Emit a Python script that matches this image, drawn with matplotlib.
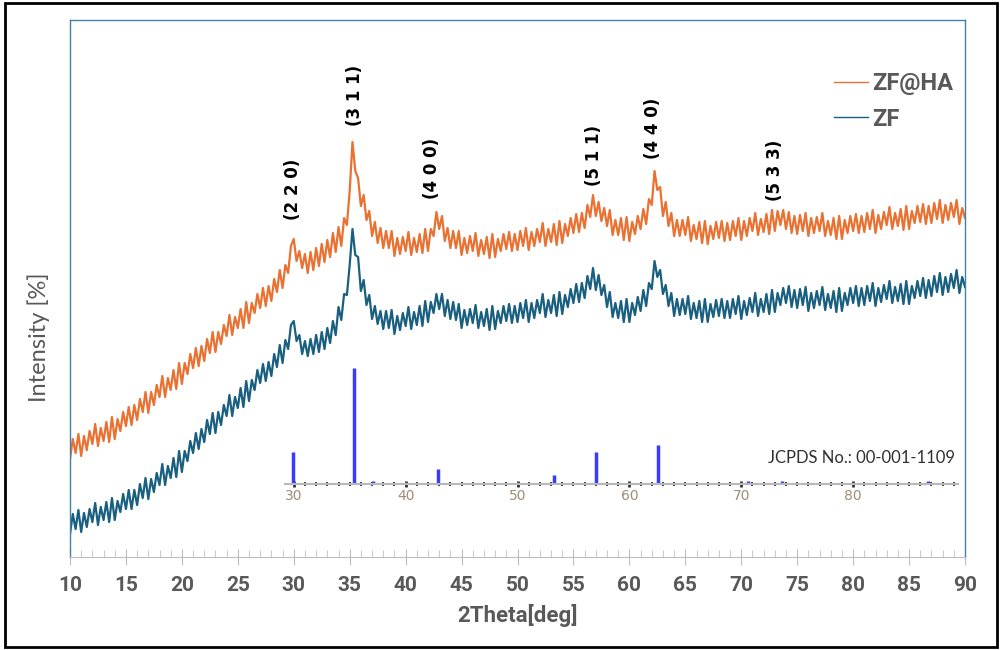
import numpy as np
import matplotlib
matplotlib.use('Agg')
import matplotlib.pyplot as plt
from matplotlib.patches import Rectangle

# intensity every 0.25 deg, 10..90 (arbitrary units)
zf_ha = [
    98, 118, 104, 123, 101, 121, 107, 126, 113, 133, 111, 129, 116, 135, 115, 140, 118, 138, 126, 145,
    131, 150, 132, 152, 137, 158, 145, 165, 144, 165, 152, 172, 160, 181, 160, 179, 167, 187, 168, 194,
    173, 194, 183, 203, 189, 209, 191, 211, 196, 218, 204, 225, 205, 225, 213, 232, 221, 242, 222, 240,
    229, 248, 229, 255, 234, 254, 244, 263, 249, 269, 251, 271, 256, 278, 265, 287, 269, 292, 284, 311,
    318, 296, 306, 289, 303, 284, 305, 287, 309, 291, 313, 295, 317, 300, 324, 305, 330, 311, 339, 332,
    366, 415, 386, 379, 351, 362, 337, 346, 321, 335, 314, 329, 309, 326, 309, 326, 301, 319, 303, 320,
    306, 325, 302, 319, 305, 323, 304, 328, 306, 328, 321, 345, 328, 341, 316, 329, 309, 326, 309, 326,
    302, 319, 304, 321, 306, 324, 301, 317, 303, 320, 299, 323, 300, 318, 306, 323, 308, 325, 306, 323,
    307, 326, 311, 329, 307, 325, 311, 328, 315, 334, 311, 328, 315, 333, 312, 336, 314, 333, 321, 339,
    324, 343, 325, 344, 329, 352, 340, 362, 341, 355, 336, 349, 331, 347, 322, 337, 322, 339, 317, 340,
    316, 335, 323, 341, 328, 348, 333, 358, 352, 386, 367, 370, 341, 355, 331, 344, 321, 337, 321, 337,
    322, 340, 316, 332, 318, 335, 314, 336, 313, 331, 318, 335, 319, 336, 316, 334, 317, 336, 321, 339,
    317, 336, 321, 339, 326, 344, 322, 338, 325, 343, 323, 347, 326, 346, 332, 347, 328, 345, 324, 341,
    323, 342, 326, 344, 321, 339, 324, 340, 326, 344, 321, 336, 322, 339, 318, 341, 318, 337, 324, 341,
    326, 343, 324, 341, 325, 344, 328, 347, 324, 342, 328, 345, 332, 350, 328, 344, 331, 348, 327, 351,
    328, 346, 334, 351, 335, 353, 333, 351, 334, 354, 338, 357, 334, 352, 337, 354, 340, 357, 333, 349,
    339,
]
zf = [
    23, 43, 28, 47, 25, 44, 30, 48, 35, 54, 32, 50, 37, 55, 35, 59, 37, 56, 45, 63,
    48, 67, 48, 67, 52, 73, 59, 79, 58, 78, 65, 84, 72, 93, 72, 91, 79, 99, 80, 106,
    85, 106, 96, 116, 104, 124, 108, 128, 115, 137, 123, 144, 124, 145, 132, 152, 141, 162, 141, 160,
    149, 169, 150, 176, 156, 177, 167, 187, 174, 193, 176, 195, 181, 203, 190, 212, 194, 217, 208, 232,
    236, 216, 222, 203, 216, 201, 218, 203, 222, 205, 225, 208, 229, 214, 236, 222, 250, 237, 263, 262,
    292, 328, 302, 300, 266, 277, 252, 262, 238, 251, 233, 246, 228, 246, 229, 247, 223, 241, 227, 244,
    231, 250, 228, 245, 232, 251, 231, 256, 235, 255, 244, 263, 248, 263, 241, 257, 238, 255, 237, 253,
    229, 247, 232, 248, 234, 252, 229, 245, 231, 248, 227, 251, 228, 246, 234, 251, 236, 253, 234, 251,
    235, 254, 239, 257, 235, 254, 239, 257, 244, 263, 240, 257, 244, 262, 241, 265, 243, 262, 250, 268,
    254, 273, 255, 274, 259, 281, 268, 289, 267, 282, 262, 272, 250, 265, 240, 254, 239, 256, 235, 258,
    235, 254, 242, 260, 246, 267, 251, 274, 268, 296, 280, 287, 263, 272, 251, 264, 241, 258, 242, 258,
    243, 261, 238, 254, 239, 256, 235, 258, 235, 253, 240, 257, 241, 258, 239, 256, 239, 258, 243, 261,
    238, 256, 242, 259, 245, 264, 241, 258, 245, 263, 243, 267, 245, 264, 252, 269, 254, 271, 250, 267,
    249, 268, 252, 270, 246, 264, 249, 266, 252, 270, 247, 263, 249, 266, 245, 269, 246, 264, 252, 269,
    254, 271, 251, 269, 252, 271, 256, 274, 251, 269, 255, 272, 258, 276, 254, 270, 256, 273, 253, 276,
    253, 271, 259, 276, 261, 279, 259, 277, 261, 281, 265, 284, 262, 280, 265, 283, 269, 287, 264, 280,
    270,
]
two_theta = np.linspace(10, 90, len(zf_ha))

# peak labels (hkl), position and height
hkl_labels = ['(2 2 0)', '(3 1 1)', '(4 0 0)', '(5 1 1)', '(4 4 0)', '(5 3 3)']
hkl_x = [29.9, 35.5, 42.4, 56.8, 62.1, 73.0]
hkl_y = [368, 462, 389, 402, 429, 387]

# JCPDS reference sticks
ref_pos = [29.9, 35.4, 37.1, 42.9, 53.3, 57.0, 62.6, 70.6, 73.6, 86.7]
ref_int = [32, 116, 3, 15, 9, 32, 39, 3, 3, 3]

orange = '#e97132'
blue = '#195f80'
grey = '#595959'
frame = '#3f84a8'
sans = ['Roboto', 'DejaVu Sans']
light = ['Lato', 'DejaVu Sans']

fig = plt.figure(figsize=(10.02, 6.5), dpi=100)
fig.patches.append(Rectangle((0.005, 0.004), 0.99, 0.992, transform=fig.transFigure,
                             fill=False, edgecolor='black', linewidth=2))

W, H = 1002, 650
ax = fig.add_axes([70 / W, 1 - 557 / H, 895 / W, 537 / H])
ax.plot(two_theta, zf_ha, color=orange, lw=1.6, label='ZF@HA')
ax.plot(two_theta, zf, color=blue, lw=1.6, label='ZF')
ax.set_xlim(10, 90)
ax.set_ylim(0, 537)
ax.set_yticks([])
ax.set_xticks(np.arange(10, 91, 5))
ax.set_xticks(np.arange(10, 91, 1), minor=True)
ax.tick_params(axis='x', which='major', direction='inout', length=12, color='#bfbfbf',
               labelsize=15, labelcolor=grey, pad=8)
ax.tick_params(axis='x', which='minor', direction='in', length=5, color='#bfbfbf')
for lab in ax.get_xticklabels():
    lab.set_fontweight('bold')
    lab.set_family(sans)
for s in ['left', 'top', 'right']:
    ax.spines[s].set_color(frame)
    ax.spines[s].set_linewidth(1.0)
ax.spines['bottom'].set_color('#bfbfbf')

ax.set_xlabel('2Theta[deg]', fontsize=16, fontweight='bold', color=grey,
              family=sans, labelpad=6)
ax.set_ylabel('Intensity [%]', fontsize=17, color=grey, family=light)
ax.yaxis.set_label_coords(-0.022, 0.41)

for lab, x, y in zip(hkl_labels, hkl_x, hkl_y):
    ax.text(x, y, lab, rotation=90, ha='center', va='center', fontsize=12,
            fontweight='bold', color='black')

leg = ax.legend(loc='upper left', bbox_to_anchor=(0.83, 0.942), frameon=False,
                handlelength=1.45, handletextpad=0.15, labelspacing=0.52,
                prop={'family': sans, 'weight': 'bold', 'size': 17})
for t in leg.get_texts():
    t.set_color(grey)
for ln in leg.get_lines():
    ln.set_linewidth(1.0)

# inset with the JCPDS stick pattern
x0 = 10 + (285 - 70) / 11.1875
x1 = 10 + (958 - 70) / 11.1875
ins = fig.add_axes([285 / W, 1 - 484 / H, 673 / W, 130 / H])
ins.patch.set_alpha(0)
ins.vlines(ref_pos, 0, ref_int, color='#3b3bff', lw=2.5)
ins.set_xlim(x0, x1)
ins.set_ylim(0, 130)
ins.set_yticks([])
ins.set_xticks(np.arange(30, 90, 10))
ins.set_xticks(np.arange(30, 90, 1), minor=True)
ins.tick_params(axis='x', which='major', direction='inout', length=5, width=2,
                color='#303030', labelsize=10, labelcolor='#a08c78', pad=1)
ins.tick_params(axis='x', which='minor', direction='inout', length=3, width=1.5,
                color='#404040')
for s in ['left', 'top', 'right']:
    ins.spines[s].set_visible(False)
ins.spines['bottom'].set_color('#b8b8b8')
ins.spines['bottom'].set_linewidth(1.5)
ins.text(0.995, 0.2, 'JCPDS No.: 00-001-1109', transform=ins.transAxes, ha='right',
         va='center', fontsize=12, color='#303030', family=light)

fig.savefig('out.png', dpi=100)
